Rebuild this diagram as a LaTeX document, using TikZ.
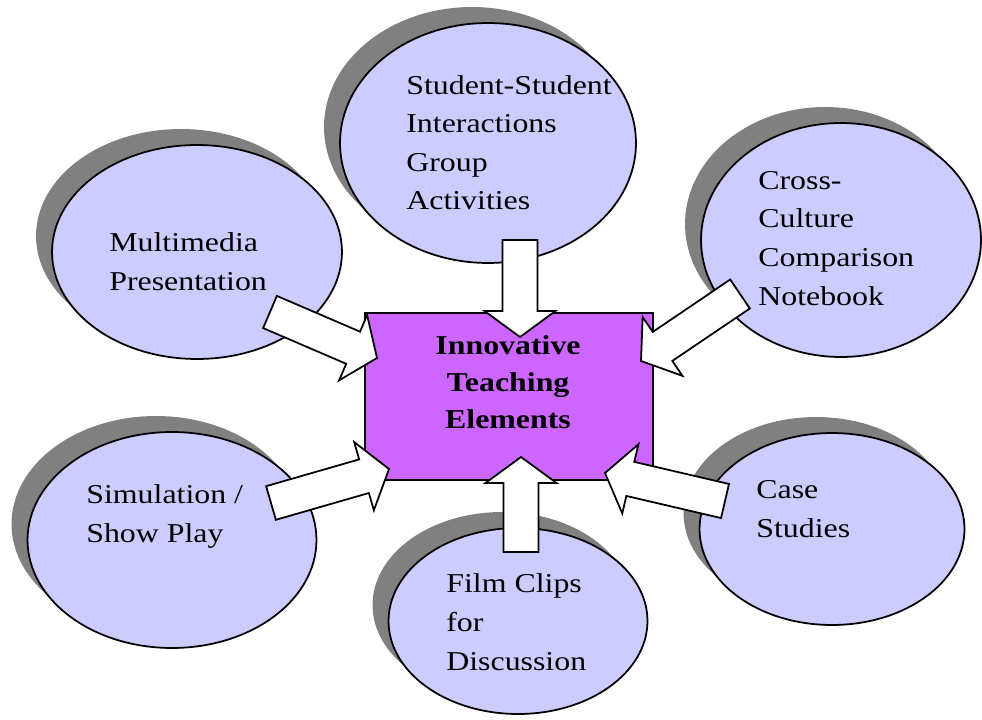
\documentclass[tikz,border=0pt]{standalone}
\usepackage{fontspec}
\setmainfont{Liberation Serif}[FakeStretch=1.17]
\usepackage{xcolor}
\usetikzlibrary{shapes.geometric,shadows,calc}

\definecolor{bubble}{HTML}{CCCCFF}
\definecolor{core}{HTML}{CC66FF}
\definecolor{shade}{HTML}{808080}

% fat white arrow from #1 (tail) to #2 (tip)
\newcommand{\blockarrow}[2]{%
  \coordinate (hd) at ($(#2)!0.52cm!(#1)$);
  \filldraw[barrow] ($(#1)!0.35cm!90:(#2)$) -- ($(hd)!0.35cm!90:(#2)$)
    -- ($(hd)!0.71cm!90:(#2)$) -- (#2) -- ($(hd)!0.71cm!-90:(#2)$)
    -- ($(hd)!0.35cm!-90:(#2)$) -- ($(#1)!0.35cm!-90:(#2)$) -- cycle;}

\begin{document}
\begin{tikzpicture}[x=0.02cm,y=-0.02cm,
  bub/.style={ellipse,draw,line width=1pt,fill=bubble,inner sep=0pt,
    drop shadow={shadow xshift=-0.32cm,shadow yshift=0.32cm,fill=shade,opacity=1}},
  txt/.style={anchor=base west,align=left,inner sep=0pt,
    font=\fontsize{15.5}{22}\selectfont},
  barrow/.style={draw,fill=white,line width=1pt,line join=miter}]
\useasboundingbox (0,0) rectangle (982,719);

% the six topics
\node[bub,minimum width=5.92cm,minimum height=4.8cm]  (student) at (488,143) {};
\node[bub,minimum width=5.8cm,minimum height=4.28cm]  (multi)   at (197,252) {};
\node[bub,minimum width=5.6cm,minimum height=4.68cm]  (cross)   at (841,240) {};
\node[bub,minimum width=5.78cm,minimum height=4.32cm] (sim)     at (172,540) {};
\node[bub,minimum width=5.18cm,minimum height=3.72cm] (film)    at (518,621) {};
\node[bub,minimum width=5.3cm,minimum height=3.84cm]  (case)    at (832,529) {};

% labels sit on the baseline of their last line
\node[txt] (student-t) at (406,210) {Student-Student\\Interactions\\Group\\Activities};
\node[txt] (multi-t)   at (109,290) {Multimedia\\Presentation};
\node[txt] (cross-t)   at (758,305) {Cross-\\Culture\\Comparison\\Notebook};
\node[txt] (sim-t)     at (86,542)  {Simulation /\\Show Play};
\node[txt] (film-t)    at (446,670) {Film Clips\\for\\Discussion};
\node[txt] (case-t)    at (756,537) {Case\\Studies};

% centre box
\node[draw,fill=core,line width=1pt,inner sep=0pt,
  minimum width=5.76cm,minimum height=3.34cm] (ite) at (509,396.5) {};
\node[txt,anchor=base,align=center,font=\fontsize{15.5}{21}\selectfont\bfseries]
  (ite-t) at (508,428) {Innovative\\Teaching\\Elements};

% arrow ends
\coordinate (student-o) at (520,240);   \coordinate (ite-n)  at (520,337);
\coordinate (film-o)    at (521,552);   \coordinate (ite-s)  at (521,457);
\coordinate (multi-o)   at (270,312);   \coordinate (ite-nw) at (377,358);
\coordinate (sim-o)     at (271,503);   \coordinate (ite-sw) at (389,469);
\coordinate (cross-o)   at (740,294);   \coordinate (ite-ne) at (641,361);
\coordinate (case-o)    at (725,501);   \coordinate (ite-se) at (605,473);

\blockarrow{student-o}{ite-n}
\blockarrow{film-o}{ite-s}
\blockarrow{multi-o}{ite-nw}
\blockarrow{sim-o}{ite-sw}
\blockarrow{cross-o}{ite-ne}
\blockarrow{case-o}{ite-se}
\end{tikzpicture}
\end{document}
